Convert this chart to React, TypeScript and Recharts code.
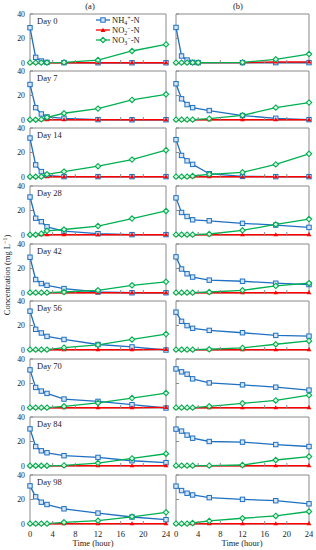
import React from 'react';
import { LineChart, Line, XAxis, YAxis, ReferenceArea } from 'recharts';

const days = ['Day 0', 'Day 7', 'Day 14', 'Day 28', 'Day 42', 'Day 56', 'Day 70', 'Day 84', 'Day 98'];
const hours = [0, 1, 2, 3, 6, 12, 18, 24];
const hoursB0 = [0, 1, 2, 3, 4, 12, 18, 24];
const xTicks = [0, 4, 8, 12, 16, 20, 24];
const yTicks = [0, 20, 40];

// column (a)
const nh4A = [
  [28.8, 4.6, 1.6, 0.5, 0.3, 0.2, 0.2, 0.2],
  [29, 10.1, 4.9, 2.5, 1.4, 0.3, 0.2, 0.2],
  [31.8, 9.9, 4.4, 1.4, 0.3, 0.3, 0.3, 0.3],
  [31, 13.7, 10.9, 6.7, 3.1, 1.1, 0.3, 0.3],
  [29.2, 11, 7.7, 6.3, 3.6, 0.8, 0.2, 0.2],
  [31.7, 16.9, 13.9, 11.1, 8.6, 4.5, 2.5, 0],
  [31.1, 16.8, 13.8, 11.9, 7.3, 5.4, 2.7, 0],
  [30.3, 15.9, 12.4, 10.8, 8.4, 7, 4.3, 2.7],
  [31.1, 22.2, 17.8, 15.9, 12.4, 8.9, 5.7, 3.5],
];
const no2A = [
  [0.2, 0.2, 0.2, 0.2, 0.2, 0.2, 0.2, 0.2],
  [0.2, 0.2, 0.2, 0.2, 0.2, 0.2, 0.2, 0.2],
  [0.2, 0.2, 0.2, 0.2, 0.2, 0.2, 0.2, 0.2],
  [0.2, 0.2, 0.2, 0.2, 0.2, 0.2, 0.2, 0.2],
  [0.2, 0.2, 0.2, 0.2, 0.2, 0.2, 0.2, 0.2],
  [0.2, 0.2, 0.2, 0.2, 0.2, 0.2, 0.2, 0.5],
  [0.2, 0.2, 0.2, 0.2, 0.2, 0.2, 0.2, 0.5],
  [0.2, 0.2, 0.2, 0.2, 0.2, 0.2, 0.2, 0.2],
  [0.2, 0.2, 0.2, 0.2, 0.2, 0.2, 0.2, 0.2],
];
const no3A = [
  [0.3, 0.3, 0.3, 0.3, 0.5, 2.4, 9.8, 15.2],
  [0.2, 0.2, 0.5, 2.2, 5.5, 9.3, 16.4, 21],
  [0.2, 0.2, 0.3, 2.2, 4.4, 8.8, 14.2, 21.9],
  [0.2, 0.2, 1.1, 3.4, 4.5, 7.3, 13.4, 19.6],
  [0.3, 0.3, 0.3, 0.3, 0.8, 2.2, 6.3, 9.1],
  [0.3, 0.3, 0.3, 0.3, 1.9, 4.2, 8.6, 13],
  [0.3, 0.3, 0.3, 0.3, 1.4, 4.1, 8.1, 12.2],
  [0.2, 0.2, 0.2, 0.2, 0.5, 2.4, 6.2, 10],
  [0.3, 0.3, 0.3, 0.3, 1.4, 2.7, 5.9, 9.5],
];

// column (b)
const nh4B = [
  [29, 5.7, 2.4, 0.5, 0.3, 0.3, 0.3, 0.3],
  [29.6, 17.3, 12.6, 10.1, 7.7, 3.6, 1.4, 0.3],
  [30.5, 17.6, 13.2, 10.3, 2.7, 0.5, 0.3, 0.3],
  [30.3, 18.4, 15.1, 12.4, 11.6, 9.5, 8.1, 6.2],
  [29.5, 19.6, 15.7, 13, 10.5, 9.6, 8, 6.9],
  [30.9, 23.4, 19.9, 17.7, 16, 14.1, 11.9, 11.3],
  [31.9, 29.5, 27.6, 23.8, 20.5, 18.9, 17, 14.6],
  [30.1, 28.5, 25.2, 22.7, 20, 19.5, 17.5, 15.9],
  [30.9, 27.3, 25.1, 23.7, 21.5, 20.1, 19, 16.5],
];
const no2B = [
  [0.3, 0.3, 0.3, 0.3, 0.3, 0.3, 0.8, 0.8],
  [0.2, 0.2, 0.2, 0.2, 0.2, 0.2, 0.2, 0.2],
  [0.2, 0.2, 0.2, 0.2, 0.2, 0.2, 0.2, 0.2],
  [0.2, 0.2, 0.2, 0.2, 0.2, 0.2, 0.2, 0.2],
  [0.2, 0.2, 0.2, 0.2, 0.2, 0.2, 0.2, 0.2],
  [0.2, 0.2, 0.2, 0.2, 0.2, 0.2, 0.2, 0.2],
  [0.2, 0.2, 0.2, 0.2, 0.2, 0.2, 0.2, 0.2],
  [0.2, 0.2, 0.2, 0.2, 0.2, 0.2, 0.2, 0.2],
  [0.2, 0.2, 0.2, 0.2, 0.2, 0.2, 0.2, 0.2],
];
const no3B = [
  [0.3, 0.3, 0.3, 0.3, 0.3, 0.5, 3, 7.3],
  [0.3, 0.3, 0.3, 0.3, 1.1, 3.8, 10.1, 14.2],
  [0.3, 0.3, 0.3, 0.8, 2.2, 3.8, 10.3, 18.9],
  [0.3, 0.3, 0.3, 0.3, 0.8, 3.8, 8.6, 13],
  [0.3, 0.3, 0.3, 0.3, 0.8, 2.2, 5.8, 8],
  [0.3, 0.3, 0.3, 0.3, 0.6, 1.7, 4.7, 7.4],
  [0.3, 0.3, 0.3, 0.3, 1.4, 3.8, 6.2, 10.5],
  [0.3, 0.3, 0.3, 0.3, 0.3, 0.8, 4.9, 7.7],
  [0.3, 0.3, 0.3, 0.8, 2.5, 4.7, 6.6, 10.2],
];

const BLUE = '#1f70c1';
const RED = '#ff0000';
const GREEN = '#00b050';
const FRAME = '#8a8a8a';
const FONT = "'Liberation Serif', 'Times New Roman', serif";

const rowTops = [14, 71, 128, 186, 244, 301, 359, 417, 475];
const PLOT_H = 49;
const MARGIN_TOP = 6;
const AXIS_W = 30;

const Square = (props: any) => {
  const { cx, cy } = props;
  if (cx == null || cy == null) return <g />;
  return <rect x={cx - 2.2} y={cy - 2.2} width={4.4} height={4.4} fill="#d6e6f6" stroke={BLUE} strokeWidth={1} />;
};

const Triangle = (props: any) => {
  const { cx, cy } = props;
  if (cx == null || cy == null) return <g />;
  return <path d={`M${cx},${cy - 2.6}L${cx + 2.4},${cy + 1.6}L${cx - 2.4},${cy + 1.6}Z`} fill={RED} />;
};

const Diamond = (props: any) => {
  const { cx, cy } = props;
  if (cx == null || cy == null) return <g />;
  return <path d={`M${cx},${cy - 2.7}L${cx + 2.7},${cy}L${cx},${cy + 2.7}L${cx - 2.7},${cy}Z`} fill="#dff5e7" stroke={GREEN} strokeWidth={1.1} />;
};

function Panel({ col, row }: { col: 'a' | 'b'; row: number }) {
  const t = col === 'b' && row === 0 ? hoursB0 : hours;
  const nh4 = col === 'a' ? nh4A[row] : nh4B[row];
  const no2 = col === 'a' ? no2A[row] : no2B[row];
  const no3 = col === 'a' ? no3A[row] : no3B[row];
  const data = t.map((h, k) => ({ t: h, nh4: nh4[k], no2: no2[k], no3: no3[k] }));
  const last = row === days.length - 1;
  const plotW = col === 'a' ? 136 : 133;
  const left = col === 'a' ? 0 : 146;
  const width = AXIS_W + plotW + 4;
  const height = MARGIN_TOP + PLOT_H + 14;
  const tickStyle = { fontSize: 8.5, fill: '#222', fontFamily: FONT };
  const yTickStyle = { fontSize: 7.8, fill: '#222', fontFamily: FONT };

  return (
    <div style={{ position: 'absolute', left, top: rowTops[row] - MARGIN_TOP }}>
      <LineChart
        width={width}
        height={height}
        data={data}
        margin={{ top: MARGIN_TOP, right: 4, bottom: 0, left: 0 }}
        style={{ overflow: 'visible' }}
      >
        <ReferenceArea x1={0} x2={24} y1={0} y2={40} fill="none" stroke={FRAME} strokeWidth={1} />
        <XAxis
          dataKey="t"
          type="number"
          domain={[0, 24]}
          ticks={xTicks}
          height={14}
          axisLine={false}
          tickSize={-3}
          tickMargin={10}
          tickLine={{ stroke: FRAME }}
          tick={tickStyle}
          tickFormatter={(v) => (last ? String(v) : '')}
          interval={0}
        />
        <YAxis
          type="number"
          domain={[0, 40]}
          ticks={yTicks}
          width={AXIS_W}
          axisLine={false}
          tickSize={-3}
          tickMargin={8}
          tickLine={{ stroke: FRAME }}
          tick={yTickStyle}
          tickFormatter={(v) => (col === 'a' ? String(v) : '')}
          interval={0}
        />
        <Line dataKey="nh4" stroke={BLUE} strokeWidth={1.3} dot={Square} isAnimationActive={false} />
        <Line dataKey="no2" stroke={RED} strokeWidth={1.3} dot={Triangle} isAnimationActive={false} />
        <Line dataKey="no3" stroke={GREEN} strokeWidth={1.3} dot={Diamond} isAnimationActive={false} />
      </LineChart>
      {col === 'a' && (
        <div style={{ position: 'absolute', left: 37, top: MARGIN_TOP + 1, fontSize: 8.5, fontFamily: FONT, color: '#222', lineHeight: '12px' }}>
          {days[row]}
        </div>
      )}
    </div>
  );
}

function LegendRow({ color, shape, children }: { color: string; shape: React.ReactNode; children: React.ReactNode }) {
  return (
    <div style={{ display: 'flex', alignItems: 'center', height: 10 }}>
      <svg width={14} height={8} style={{ marginRight: 2 }}>
        <line x1={0} y1={4} x2={14} y2={4} stroke={color} strokeWidth={1.3} />
        {shape}
      </svg>
      <span>{children}</span>
    </div>
  );
}

const subSt: React.CSSProperties = { fontSize: 6, verticalAlign: -2, lineHeight: 0 };
const supSt: React.CSSProperties = { fontSize: 6, verticalAlign: 3, lineHeight: 0 };

export default function App() {
  const rows = days.map((_, i) => i);
  return (
    <div style={{ position: 'absolute', left: 0, top: 0, width: 316, height: 550, background: '#fff', fontFamily: FONT, color: '#222' }}>
      <div style={{ position: 'absolute', left: 80, top: 0, width: 20, textAlign: 'center', fontSize: 8.5, lineHeight: '12px' }}>(a)</div>
      <div style={{ position: 'absolute', left: 228, top: 0, width: 20, textAlign: 'center', fontSize: 8.5, lineHeight: '12px' }}>(b)</div>
      {rows.map((r) => (
        <Panel key={'a' + r} col="a" row={r} />
      ))}
      {rows.map((r) => (
        <Panel key={'b' + r} col="b" row={r} />
      ))}
      <div style={{ position: 'absolute', left: 96, top: 15, fontSize: 8.5, lineHeight: '10px' }}>
        <LegendRow color={BLUE} shape={<Square cx={7} cy={4} />}>
          NH<sub style={subSt}>4</sub><sup style={supSt}>+</sup>-N
        </LegendRow>
        <LegendRow color={RED} shape={<Triangle cx={7} cy={4.3} />}>
          NO<sub style={subSt}>2</sub><sup style={supSt}>−</sup>-N
        </LegendRow>
        <LegendRow color={GREEN} shape={<Diamond cx={7} cy={4} />}>
          NO<sub style={subSt}>3</sub><sup style={supSt}>−</sup>-N
        </LegendRow>
      </div>
      <div
        style={{
          position: 'absolute',
          left: 7 - 60,
          top: 275 - 6,
          width: 120,
          textAlign: 'center',
          fontSize: 8.5,
          lineHeight: '12px',
          transform: 'rotate(-90deg)',
          whiteSpace: 'nowrap',
        }}
      >
        Concentration (mg L<sup style={supSt}>−1</sup>)
      </div>
      <div style={{ position: 'absolute', left: 58, top: 537, width: 70, textAlign: 'center', fontSize: 8.5, lineHeight: '12px' }}>Time (hour)</div>
      <div style={{ position: 'absolute', left: 207, top: 537, width: 70, textAlign: 'center', fontSize: 8.5, lineHeight: '12px' }}>Time (hour)</div>
    </div>
  );
}
